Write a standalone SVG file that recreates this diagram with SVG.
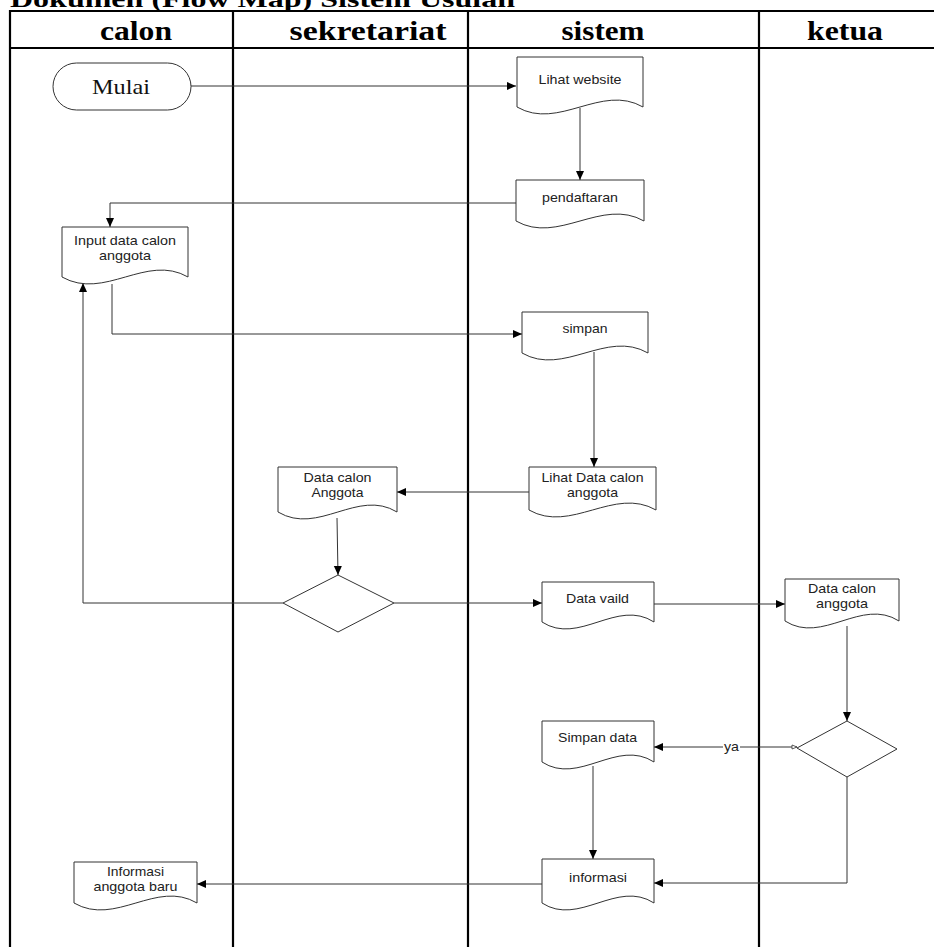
<svg xmlns="http://www.w3.org/2000/svg" width="934" height="947" viewBox="0 0 934 947">
  <style>
    .lane { stroke: #000; stroke-width: 2.2; fill: none; }
    .node { fill: #fff; stroke: #333; stroke-width: 1; }
    .conn { fill: none; stroke: #333; stroke-width: 1; }
    .title { font-family: "Liberation Serif", "Times New Roman", serif; font-weight: bold; font-size: 24px; fill: #000; }
    .head { font-family: "Liberation Serif", "Times New Roman", serif; font-weight: bold; font-size: 28px; fill: #000; text-anchor: middle; }
    .term { font-family: "Liberation Serif", "Times New Roman", serif; font-size: 21px; fill: #111; text-anchor: middle; }
    .lbl { font-family: "Liberation Sans", Arial, sans-serif; font-size: 13px; fill: #222; text-anchor: middle; }
  </style>
  <defs>
    <marker id="arrow" markerUnits="userSpaceOnUse" markerWidth="12" markerHeight="12" refX="10" refY="5" orient="auto">
      <path d="M1,1 L10,5 L1,9 Z" fill="#000"/>
    </marker>
    <marker id="tail" markerUnits="userSpaceOnUse" markerWidth="10" markerHeight="10" refX="1" refY="4" orient="auto">
      <path d="M1,4 L6,2 L6,6 Z" fill="#fff" stroke="#333" stroke-width="0.8"/>
    </marker>
  </defs>

  <rect width="934" height="947" fill="#fff"/>

  <!-- heading, partly above the page edge -->
  <text class="title" x="10" y="7" textLength="505" lengthAdjust="spacingAndGlyphs">Dokumen (Flow Map) Sistem Usulan</text>

  <!-- swimlane table -->
  <g id="lanes">
    <line class="lane" x1="10" y1="11" x2="934" y2="11"/>
    <line class="lane" x1="10" y1="48" x2="934" y2="48"/>
    <line class="lane" x1="10" y1="10" x2="10" y2="947"/>
    <line class="lane" x1="233" y1="10" x2="233" y2="947"/>
    <line class="lane" x1="468" y1="10" x2="468" y2="947"/>
    <line class="lane" x1="759" y1="10" x2="759" y2="947"/>
    <text class="head" x="136" y="40" textLength="72" lengthAdjust="spacingAndGlyphs">calon</text>
    <text class="head" x="368" y="40" textLength="157" lengthAdjust="spacingAndGlyphs">sekretariat</text>
    <text class="head" x="603" y="40" textLength="83" lengthAdjust="spacingAndGlyphs">sistem</text>
    <text class="head" x="845" y="40" textLength="76" lengthAdjust="spacingAndGlyphs">ketua</text>
  </g>

  <!-- connectors -->
  <g id="connectors">
    <path class="conn" d="M191,86 H516" marker-end="url(#arrow)"/>
    <path class="conn" d="M580,108 V180" marker-end="url(#arrow)"/>
    <path class="conn" d="M516,203 H110 V227" marker-end="url(#arrow)"/>
    <path class="conn" d="M112,284 V334 H522" marker-end="url(#arrow)"/>
    <path class="conn" d="M594,352 V467" marker-end="url(#arrow)"/>
    <path class="conn" d="M529,492 H397" marker-end="url(#arrow)"/>
    <path class="conn" d="M337,518 L338,575" marker-end="url(#arrow)"/>
    <path class="conn" d="M283,603 H83 V283" marker-end="url(#arrow)"/>
    <path class="conn" d="M394,603 H542" marker-end="url(#arrow)"/>
    <path class="conn" d="M654,604 H785" marker-end="url(#arrow)"/>
    <path class="conn" d="M847,626 V721" marker-end="url(#arrow)"/>
    <path class="conn" d="M797,747 H654" marker-start="url(#tail)" marker-end="url(#arrow)"/>
    <path class="conn" d="M593,766 V859" marker-end="url(#arrow)"/>
    <path class="conn" d="M847,777 V883 H654" marker-end="url(#arrow)"/>
    <path class="conn" d="M542,884 H197" marker-end="url(#arrow)"/>
    <rect x="723" y="740" width="17" height="13" fill="#fff"/>
    <text class="lbl" x="731.5" y="751" textLength="15" lengthAdjust="spacingAndGlyphs">ya</text>
  </g>

  <!-- calon -->
  <g id="mulai">
    <rect class="node" x="53" y="63" width="138" height="47" rx="23.5" ry="23.5"/>
    <text class="term" x="121" y="94" textLength="58" lengthAdjust="spacingAndGlyphs">Mulai</text>
  </g>
  <g id="input-data">
    <path class="node" d="M62,227 H188 V277 C146.4,253 104.6,301 62,277 Z"/>
    <text class="lbl" x="125" y="245" textLength="102" lengthAdjust="spacingAndGlyphs">Input data calon</text>
    <text class="lbl" x="125" y="260" textLength="52" lengthAdjust="spacingAndGlyphs">anggota</text>
  </g>
  <g id="info-anggota-baru">
    <path class="node" d="M74,862 H197 V903 C156.4,879 115.6,927 74,903 Z"/>
    <text class="lbl" x="135.5" y="876" textLength="57" lengthAdjust="spacingAndGlyphs">Informasi</text>
    <text class="lbl" x="135.5" y="891" textLength="84" lengthAdjust="spacingAndGlyphs">anggota baru</text>
  </g>

  <!-- sekretariat -->
  <g id="data-calon-sek">
    <path class="node" d="M278,467 H397 V512 C357.7,488 318.3,536 278,512 Z"/>
    <text class="lbl" x="337.5" y="482" textLength="68" lengthAdjust="spacingAndGlyphs">Data calon</text>
    <text class="lbl" x="337.5" y="497" textLength="52" lengthAdjust="spacingAndGlyphs">Anggota</text>
  </g>
  <g id="cek-sek">
    <path class="node" d="M338,575 L394,603 L338,632 L283,603 Z"/>
  </g>

  <!-- sistem -->
  <g id="lihat-website">
    <path class="node" d="M517,57 H643 V107 C601.4,83 558.6,131 517,107 Z"/>
    <text class="lbl" x="580" y="84" textLength="83" lengthAdjust="spacingAndGlyphs">Lihat website</text>
  </g>
  <g id="pendaftaran">
    <path class="node" d="M516,180 H644 V221 C601.8,197 558.2,245 516,221 Z"/>
    <text class="lbl" x="580" y="202" textLength="76" lengthAdjust="spacingAndGlyphs">pendaftaran</text>
  </g>
  <g id="simpan">
    <path class="node" d="M522,312 H648 V353 C606.4,329 563.6,377 522,353 Z"/>
    <text class="lbl" x="585" y="333" textLength="45" lengthAdjust="spacingAndGlyphs">simpan</text>
  </g>
  <g id="lihat-data">
    <path class="node" d="M529,467 H656 V510 C614.1,486 570.9,534 529,510 Z"/>
    <text class="lbl" x="592.5" y="482" textLength="102" lengthAdjust="spacingAndGlyphs">Lihat Data calon</text>
    <text class="lbl" x="592.5" y="497" textLength="51" lengthAdjust="spacingAndGlyphs">anggota</text>
  </g>
  <g id="data-valid">
    <path class="node" d="M542,582 H654 V622 C617,598 579,646 542,622 Z"/>
    <text class="lbl" x="597.5" y="603" textLength="63" lengthAdjust="spacingAndGlyphs">Data vaild</text>
  </g>
  <g id="simpan-data">
    <path class="node" d="M542,721 H654 V762 C617,738 579,786 542,762 Z"/>
    <text class="lbl" x="597.5" y="742" textLength="79" lengthAdjust="spacingAndGlyphs">Simpan data</text>
  </g>
  <g id="informasi">
    <path class="node" d="M542,859 H654 V903 C617,879 579,927 542,903 Z"/>
    <text class="lbl" x="598" y="882" textLength="58" lengthAdjust="spacingAndGlyphs">informasi</text>
  </g>

  <!-- ketua -->
  <g id="data-calon-ketua">
    <path class="node" d="M785,579 H899 V621 C861.4,597 822.6,645 785,621 Z"/>
    <text class="lbl" x="842" y="593" textLength="68" lengthAdjust="spacingAndGlyphs">Data calon</text>
    <text class="lbl" x="842" y="608" textLength="52" lengthAdjust="spacingAndGlyphs">anggota</text>
  </g>
  <g id="cek-ketua">
    <path class="node" d="M847,721 L897,749 L847,777 L797,748 Z"/>
  </g>
</svg>
